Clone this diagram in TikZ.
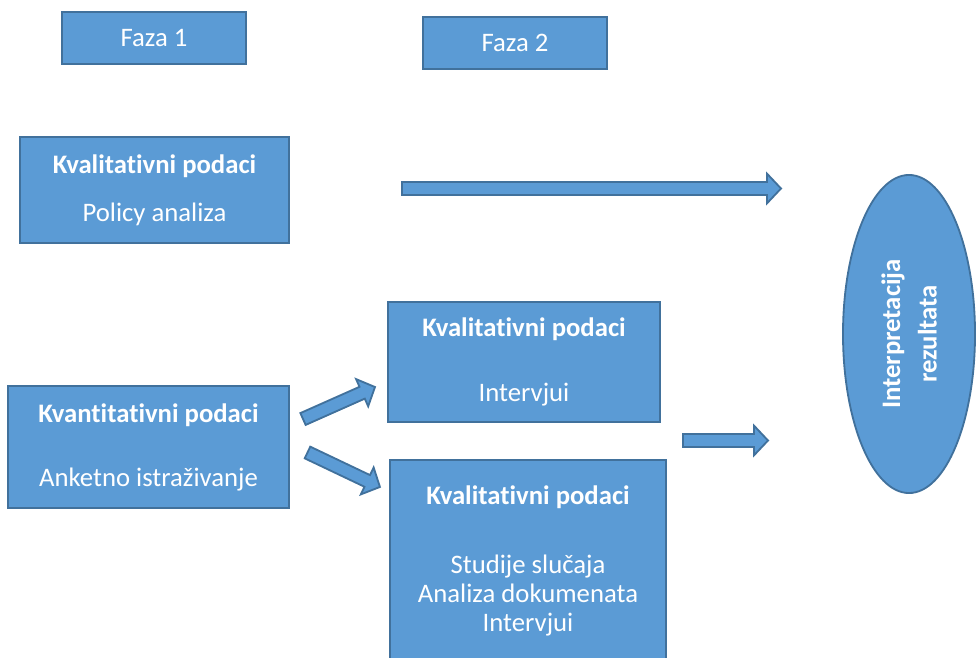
\documentclass[tikz,border=0pt]{standalone}
\usepackage{fontspec}
\setmainfont{Carlito}[Ligatures={NoCommon,NoContextual}, RawFeature={-clig;-calt}]
\usetikzlibrary{shapes.geometric, calc}
\definecolor{boxblue}{HTML}{5B9BD5}
\definecolor{edgeblue}{HTML}{41719C}

\begin{document}
\begin{tikzpicture}[
            x=0.025cm, y=-0.025cm,
            every node/.style={font=\fontsize{19}{20.6}\selectfont, text=white},
            box/.style={
                rectangle,
                draw=edgeblue,
                line width=1.3pt,
                align=center,
                inner sep=0pt,
                fill=boxblue
            },
            blockarrow/.style={
                draw=edgeblue, fill=boxblue, line width=1.3pt,
                to path={
                    let \p1=($(\tikztotarget)-(\tikztostart)$),
                        \n1={atan2(\y1,\x1)}, \n2={veclen(\x1,\y1)} in
                    {[shift={(\tikztostart)}, rotate=\n1]
                    (0pt,-4.6pt) -- ({\n2-10pt},-4.6pt) -- ({\n2-10pt},-10.6pt)
                    -- (\n2,0pt) -- ({\n2-10pt},10.6pt) -- ({\n2-10pt},4.6pt)
                    -- (0pt,4.6pt) -- cycle}
                }
            }
        ]
        \useasboundingbox (0,0) rectangle (977,657);

        % Nodes
        \node[box, minimum width=4.6cm, minimum height=1.3cm] (faza1) at (154,38) {Faza 1};
        \node[box, minimum width=4.6cm, minimum height=1.3cm] (faza2) at (515,43) {Faza 2};
        \node[box, minimum width=6.725cm, minimum height=2.65cm] (policy) at (154.5,190)
            {\textbf{Kvalitativni podaci}\\[13.5pt] Policy analiza};
        \node[box, minimum width=7.025cm, minimum height=3.05cm] (anketa) at (148.5,447)
            {\textbf{Kvantitativni podaci}\\[25pt] Anketno istraživanje};
        \node[box, minimum width=6.8cm, minimum height=3cm] (intervjui) at (524,362)
            {\textbf{Kvalitativni podaci}\\[25.5pt] Intervjui};
        \node[box, minimum width=6.9cm, minimum height=5.05cm] (studije) at (528,561)
            {\textbf{Kvalitativni podaci}\\[28.5pt] Studije slučaja\\ Analiza dokumenata\\ Intervjui};
        \node[ellipse, draw=edgeblue, fill=boxblue, line width=1.3pt, rotate=90,
            minimum width=7.95cm, minimum height=3.3cm, inner sep=0pt, align=center,
            font=\fontsize{19}{26}\selectfont\bfseries] (rezultati) at (909,334)
            {Interpretacija\\ rezultata};

        % Arrow ends
        \coordinate (policy-a) at (402,188.5);
        \coordinate (policy-b) at (781,188.5);
        \coordinate (anketa-a) at (303,419);
        \coordinate (anketa-b) at (375,387);
        \coordinate (anketa-c) at (307.5,452.5);
        \coordinate (anketa-d) at (380,487);
        \coordinate (faza2-a) at (683,440.5);
        \coordinate (faza2-b) at (768,440.5);

        % Arrows
        \draw[blockarrow] (policy-a) to (policy-b);
        \draw[blockarrow] (anketa-a) to (anketa-b);
        \draw[blockarrow] (anketa-c) to (anketa-d);
        \draw[blockarrow] (faza2-a) to (faza2-b);

\end{tikzpicture}
\end{document}
